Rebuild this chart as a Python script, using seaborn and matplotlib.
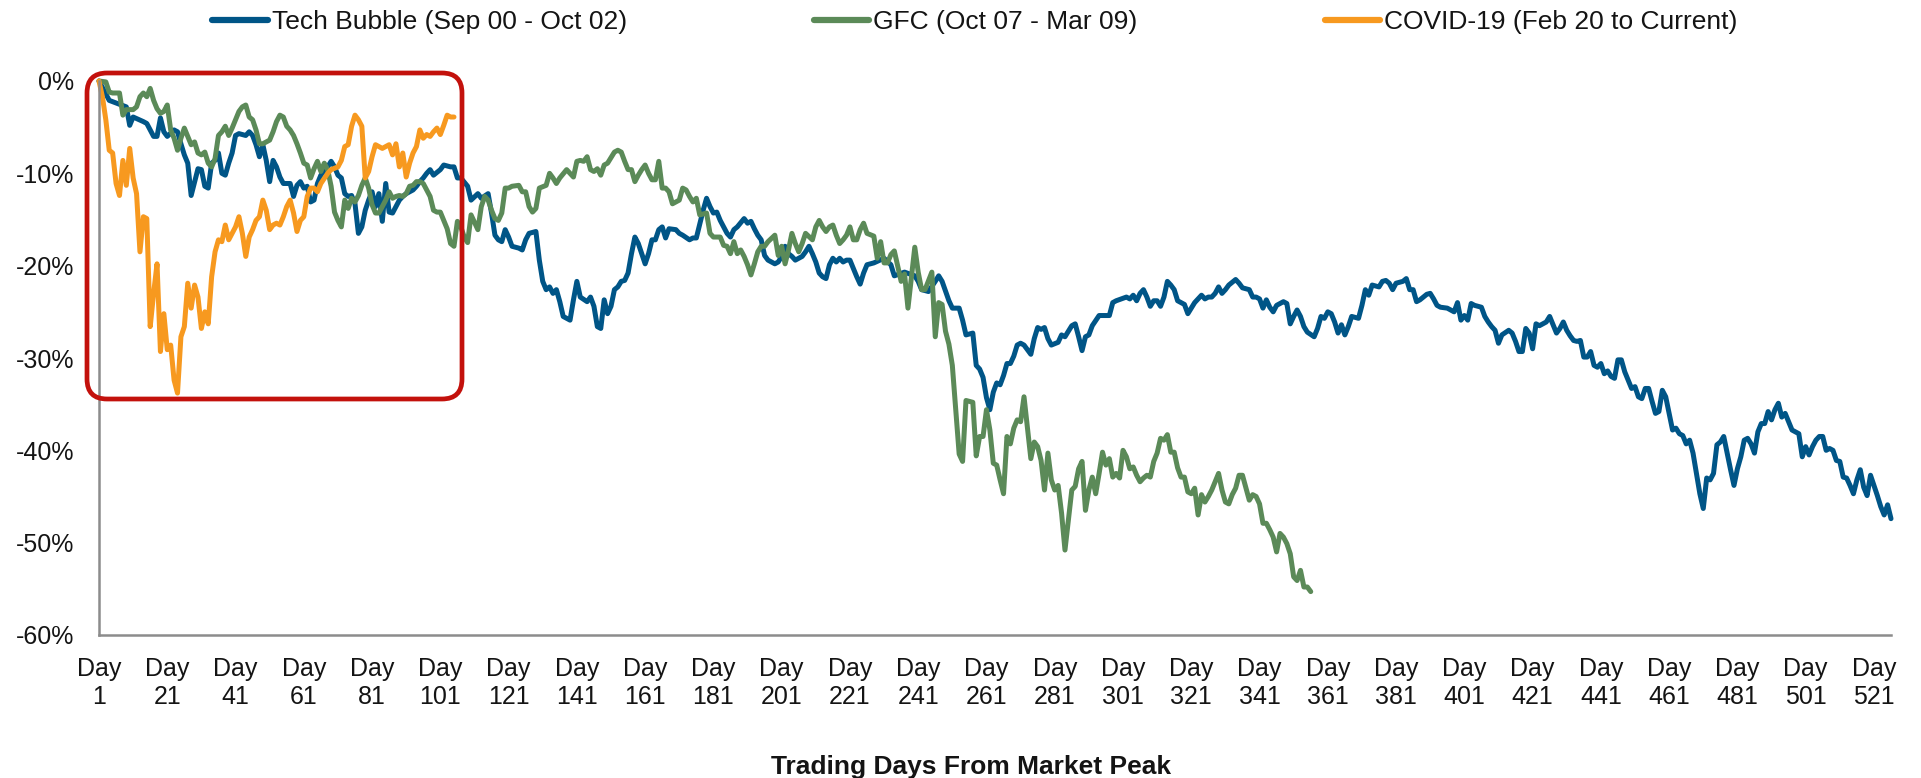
import numpy as np
import pandas as pd
import matplotlib
matplotlib.use("Agg")
import matplotlib.pyplot as plt
from matplotlib.lines import Line2D
from matplotlib.patches import FancyBboxPatch
from matplotlib.ticker import FuncFormatter
import seaborn as sns

# drawdown from market peak, in % (trading day -> value)
tech_days = [
    1, 4, 9, 10, 11, 14, 15, 17, 18, 19,
    20, 21, 23, 24, 25, 26, 27, 28, 30, 31,
    32, 33, 34, 35, 36, 37, 38, 39, 40, 41,
    42, 44, 45, 46, 47, 48, 49, 50, 51, 52,
    53, 54, 55, 57, 58, 59, 60, 61, 62, 63,
    64, 65, 66, 68, 69, 70, 71, 72, 73, 74,
    75, 76, 77, 78, 79, 80, 81, 82, 83, 84,
    85, 86, 87, 88, 89, 90, 91, 93, 94, 95,
    96, 97, 98, 99, 101, 102, 104, 105, 106, 107,
    109, 110, 112, 113, 115, 116, 117, 118, 119, 120,
    121, 122, 124, 125, 126, 127, 129, 130, 131, 132,
    133, 134, 135, 136, 137, 139, 140, 141, 142, 144,
    145, 146, 147, 148, 149, 150, 151, 152, 153, 154,
    155, 156, 157, 158, 159, 160, 161, 162, 163, 164,
    165, 166, 167, 168, 170, 171, 172, 174, 175, 176,
    178, 179, 180, 181, 182, 183, 185, 186, 187, 188,
    190, 191, 192, 193, 194, 195, 196, 197, 199, 200,
    201, 202, 203, 204, 205, 207, 208, 209, 210, 211,
    212, 213, 214, 215, 216, 217, 218, 219, 220, 221,
    223, 224, 225, 226, 228, 231, 233, 234, 237, 240,
    241, 242, 244, 246, 247, 248, 250, 251, 253, 254,
    255, 257, 258, 259, 260, 261, 262, 263, 264, 265,
    266, 267, 268, 269, 270, 271, 272, 274, 275, 276,
    277, 278, 279, 280, 282, 283, 284, 286, 287, 288,
    289, 290, 291, 292, 294, 295, 297, 298, 299, 302,
    303, 304, 305, 306, 307, 308, 309, 310, 311, 312,
    313, 314, 315, 316, 317, 318, 319, 320, 321, 322,
    324, 325, 326, 327, 328, 329, 330, 331, 332, 334,
    335, 336, 338, 339, 340, 341, 342, 343, 344, 345,
    346, 348, 349, 350, 351, 352, 353, 354, 355, 357,
    358, 359, 360, 361, 362, 363, 364, 365, 366, 367,
    368, 370, 371, 372, 373, 374, 376, 377, 378, 379,
    380, 381, 383, 384, 385, 386, 387, 388, 390, 391,
    392, 393, 394, 396, 397, 398, 399, 400, 401, 402,
    403, 404, 406, 407, 408, 409, 410, 411, 412, 414,
    415, 416, 417, 418, 419, 420, 421, 422, 423, 425,
    426, 427, 428, 429, 430, 431, 432, 433, 434, 435,
    436, 437, 438, 439, 440, 441, 442, 443, 444, 445,
    446, 447, 448, 449, 450, 451, 452, 453, 454, 455,
    456, 457, 458, 459, 460, 461, 462, 463, 464, 465,
    466, 467, 468, 469, 470, 471, 472, 473, 474, 475,
    476, 477, 478, 479, 480, 481, 482, 483, 484, 485,
    486, 487, 488, 489, 490, 491, 492, 493, 494, 495,
    496, 497, 498, 499, 500, 501, 502, 503, 504, 505,
    506, 507, 508, 509, 510, 511, 512, 513, 514, 515,
    516, 517, 518, 519, 520, 521, 522, 523, 524, 525, 526,
]
tech_pct = [
    0.0, -2.1, -2.8, -4.8, -3.9, -4.4, -4.6, -6.0, -6.0, -4.0,
    -5.5, -6.0, -5.3, -5.5, -6.8, -8.0, -8.9, -12.4, -9.5, -9.6,
    -11.4, -11.6, -8.9, -8.6, -7.8, -10.0, -10.2, -8.9, -7.8, -5.9,
    -5.7, -5.9, -5.5, -5.9, -6.9, -8.2, -6.9, -8.6, -10.9, -8.6,
    -9.3, -10.4, -11.1, -11.1, -12.5, -11.3, -10.9, -11.6, -11.4, -13.1,
    -12.9, -11.1, -10.2, -9.3, -8.7, -9.3, -10.2, -10.5, -12.2, -12.5,
    -12.4, -13.3, -16.5, -15.8, -14.0, -12.9, -12.0, -13.6, -12.2, -15.2,
    -11.1, -14.2, -14.3, -13.6, -12.9, -12.5, -12.2, -11.8, -11.4, -10.9,
    -10.5, -10.0, -9.6, -10.2, -9.6, -9.1, -9.3, -9.3, -10.5, -10.5,
    -11.4, -12.9, -12.2, -12.7, -12.2, -14.3, -16.7, -17.2, -17.4, -16.1,
    -16.9, -17.9, -18.1, -18.3, -17.2, -16.5, -16.3, -19.4, -21.7, -22.6,
    -22.3, -23.0, -22.6, -23.9, -25.5, -25.9, -23.7, -21.7, -23.4, -23.9,
    -23.4, -24.4, -26.6, -26.8, -23.7, -25.2, -24.4, -22.6, -22.3, -21.7,
    -21.6, -20.8, -18.7, -16.9, -17.6, -18.7, -19.8, -18.7, -17.2, -17.2,
    -16.1, -15.8, -17.0, -16.0, -16.1, -16.5, -16.7, -17.2, -17.0, -17.0,
    -14.0, -12.7, -13.6, -14.3, -14.2, -15.1, -16.5, -16.9, -16.1, -15.8,
    -14.9, -15.4, -15.2, -16.0, -16.7, -17.2, -18.9, -19.4, -19.8, -19.6,
    -19.0, -17.9, -18.7, -19.0, -19.4, -19.0, -18.5, -17.9, -18.7, -19.6,
    -20.8, -21.2, -21.4, -19.9, -19.2, -19.6, -19.2, -19.6, -19.4, -19.4,
    -21.2, -22.0, -20.8, -19.9, -19.7, -19.2, -19.9, -21.1, -20.7, -21.1,
    -21.7, -22.6, -22.8, -21.7, -21.1, -21.7, -23.8, -24.6, -24.6, -25.9,
    -27.5, -27.3, -30.8, -31.2, -32.1, -34.3, -35.6, -33.7, -32.7, -32.9,
    -31.9, -30.6, -30.6, -29.8, -28.6, -28.4, -28.6, -29.6, -27.9, -26.7,
    -26.9, -26.7, -27.9, -28.6, -28.3, -27.5, -27.7, -26.5, -26.3, -27.7,
    -29.2, -27.7, -27.5, -26.5, -25.4, -25.4, -25.4, -24.0, -23.8, -23.4,
    -23.6, -23.2, -23.8, -23.0, -22.6, -23.4, -24.4, -23.8, -23.8, -24.4,
    -23.4, -21.7, -22.1, -22.6, -23.8, -24.0, -24.2, -25.2, -24.6, -24.0,
    -23.2, -23.6, -23.4, -23.4, -23.0, -22.3, -23.0, -22.6, -22.1, -21.5,
    -21.9, -22.4, -22.6, -23.4, -23.4, -23.6, -24.6, -23.7, -24.5, -25.0,
    -24.3, -23.9, -24.1, -26.3, -25.5, -24.8, -25.5, -26.6, -27.2, -27.7,
    -26.8, -25.5, -25.7, -25.0, -25.2, -26.1, -27.3, -26.4, -27.5, -26.6,
    -25.5, -25.7, -24.3, -22.6, -23.2, -22.1, -22.3, -21.7, -21.6, -21.9,
    -22.6, -21.9, -21.7, -21.4, -22.6, -22.6, -23.9, -23.7, -23.1, -23.0,
    -23.6, -24.3, -24.5, -24.6, -24.8, -25.0, -24.0, -25.9, -25.4, -25.9,
    -24.1, -24.3, -24.5, -25.5, -26.1, -26.6, -27.0, -28.4, -27.5, -27.0,
    -27.3, -28.2, -29.3, -29.3, -26.8, -27.3, -29.0, -26.3, -26.5, -26.1,
    -25.5, -26.4, -27.3, -26.8, -26.1, -27.0, -27.6, -28.1, -28.2, -28.1,
    -29.9, -29.9, -29.3, -30.8, -31.0, -30.6, -31.7, -31.4, -32.0, -32.2,
    -30.2, -30.2, -31.5, -32.4, -33.3, -33.1, -34.2, -34.4, -33.3, -33.3,
    -34.7, -36.0, -35.8, -33.5, -34.2, -36.0, -37.8, -37.6, -38.2, -38.4,
    -39.3, -38.9, -40.3, -42.5, -44.7, -46.3, -43.0, -43.2, -42.5, -39.4,
    -39.1, -38.5, -40.3, -42.1, -43.8, -42.0, -40.7, -38.9, -38.7, -39.3,
    -40.3, -38.0, -37.1, -37.1, -35.8, -36.7, -35.6, -34.9, -36.4, -36.0,
    -36.9, -37.8, -38.0, -38.2, -40.7, -39.6, -40.5, -39.6, -38.9, -38.5,
    -38.5, -40.0, -39.8, -40.0, -41.1, -41.2, -42.9, -43.0, -43.8, -44.7,
    -43.2, -42.1, -44.0, -44.9, -42.7, -43.8, -44.9, -46.1, -47.0, -45.9, -47.4,
]

gfc_days = [
    1, 3, 4, 5, 7, 8, 9, 11, 12, 13,
    14, 15, 16, 17, 18, 19, 20, 21, 22, 23,
    24, 25, 26, 27, 28, 29, 30, 31, 32, 33,
    34, 35, 36, 37, 38, 39, 40, 41, 42, 43,
    44, 45, 46, 47, 48, 49, 51, 52, 53, 54,
    55, 56, 57, 58, 59, 60, 61, 62, 63, 64,
    65, 66, 67, 68, 69, 70, 71, 72, 73, 74,
    75, 76, 77, 78, 79, 80, 81, 82, 83, 84,
    85, 86, 87, 88, 89, 90, 91, 92, 93, 94,
    95, 96, 97, 98, 99, 100, 101, 102, 103, 104,
    105, 106, 107, 108, 109, 110, 112, 113, 114, 115,
    116, 117, 118, 119, 120, 121, 122, 124, 125, 126,
    127, 128, 129, 130, 132, 133, 134, 135, 136, 138,
    139, 140, 141, 142, 143, 144, 145, 146, 147, 148,
    149, 150, 152, 153, 154, 155, 156, 157, 158, 159,
    160, 161, 162, 163, 164, 165, 166, 167, 168, 169,
    171, 172, 173, 174, 175, 176, 177, 179, 180, 181,
    183, 184, 185, 186, 187, 188, 189, 190, 191, 192,
    193, 194, 195, 196, 197, 199, 200, 201, 202, 203,
    204, 205, 206, 207, 208, 210, 211, 212, 213, 214,
    215, 216, 217, 218, 219, 220, 221, 222, 223, 224,
    225, 226, 228, 229, 230, 231, 232, 233, 234, 236,
    237, 238, 240, 241, 242, 243, 245, 246, 247, 248,
    249, 250, 251, 252, 253, 254, 255, 257, 258, 259,
    260, 261, 262, 263, 264, 265, 266, 267, 268, 269,
    270, 271, 272, 274, 275, 276, 277, 278, 279, 280,
    281, 282, 283, 284, 285, 286, 287, 288, 289, 290,
    291, 292, 293, 294, 295, 296, 297, 298, 299, 300,
    301, 302, 303, 304, 305, 306, 307, 308, 309, 310,
    311, 312, 313, 314, 315, 316, 317, 318, 319, 320,
    321, 322, 323, 324, 325, 326, 327, 329, 330, 331,
    332, 333, 334, 335, 336, 338, 339, 340, 341, 342,
    343, 344, 345, 346, 347, 348, 349, 350, 351, 352,
    353, 354, 355, 356,
]
gfc_pct = [
    0.0, -0.1, -1.2, -1.3, -1.3, -3.7, -3.1, -3.1, -2.8, -1.7,
    -1.3, -1.7, -0.8, -2.1, -3.0, -3.5, -3.3, -2.6, -5.3, -6.2,
    -7.5, -6.2, -5.1, -6.0, -6.9, -6.6, -7.8, -8.0, -7.7, -8.9,
    -9.3, -8.4, -5.9, -5.5, -4.9, -5.9, -5.1, -4.2, -3.3, -2.8,
    -2.6, -3.9, -4.2, -5.3, -6.8, -6.8, -6.4, -5.5, -4.4, -3.7,
    -3.9, -4.9, -5.3, -5.9, -6.8, -7.8, -8.9, -9.1, -10.5, -9.5,
    -8.7, -9.8, -8.9, -9.6, -11.4, -14.2, -15.1, -15.8, -12.9, -13.8,
    -12.7, -13.1, -12.4, -11.3, -10.5, -11.6, -13.4, -14.3, -14.3, -13.6,
    -12.9, -12.0, -12.7, -12.5, -12.4, -12.5, -12.2, -11.4, -11.3, -10.9,
    -10.9, -11.1, -11.8, -12.5, -14.0, -14.2, -14.2, -15.1, -16.0, -17.6,
    -17.9, -15.2, -15.8, -16.9, -17.5, -14.5, -16.1, -13.6, -12.5, -12.9,
    -14.0, -14.9, -15.1, -14.3, -11.6, -11.6, -11.4, -11.3, -12.0, -12.0,
    -13.6, -14.2, -13.8, -11.6, -11.3, -10.0, -10.5, -11.1, -10.5, -9.6,
    -10.0, -10.4, -8.7, -8.6, -8.7, -8.2, -9.6, -9.8, -9.5, -10.2,
    -9.1, -8.9, -7.7, -7.5, -7.7, -8.7, -9.6, -9.6, -10.9, -10.2,
    -9.6, -9.1, -10.0, -10.7, -10.7, -8.7, -11.6, -11.6, -12.0, -13.3,
    -12.9, -11.6, -11.8, -12.5, -13.1, -12.7, -14.5, -14.3, -16.5, -16.9,
    -16.9, -17.8, -17.9, -18.7, -17.4, -18.7, -18.3, -19.0, -19.9, -21.0,
    -19.8, -18.5, -17.9, -17.9, -17.4, -16.7, -18.9, -17.9, -19.8, -18.3,
    -16.5, -17.6, -18.5, -17.6, -16.5, -17.2, -15.8, -15.1, -15.8, -16.3,
    -15.8, -15.6, -16.7, -17.6, -17.2, -16.7, -15.8, -17.2, -17.2, -16.1,
    -15.4, -16.5, -16.8, -19.2, -17.4, -19.7, -19.7, -18.8, -18.4, -21.7,
    -20.9, -24.6, -18.0, -20.7, -22.6, -22.6, -20.7, -27.7, -24.0, -24.2,
    -27.1, -28.5, -30.8, -35.6, -40.4, -41.2, -34.6, -34.8, -40.6, -38.5,
    -38.5, -35.6, -37.8, -41.4, -41.6, -43.2, -44.7, -38.5, -39.3, -37.6,
    -36.7, -36.9, -34.2, -40.9, -39.1, -39.6, -41.1, -44.3, -40.3, -43.2,
    -44.3, -43.8, -46.8, -50.8, -47.6, -44.3, -43.9, -42.0, -41.2, -46.5,
    -44.3, -42.9, -44.7, -42.5, -40.2, -41.6, -40.9, -42.9, -42.5, -43.0,
    -40.0, -40.7, -42.0, -41.8, -42.7, -43.4, -43.0, -42.7, -42.9, -41.2,
    -40.3, -38.7, -38.9, -38.3, -40.2, -40.2, -41.9, -42.9, -42.9, -44.5,
    -44.7, -44.1, -47.0, -44.8, -45.6, -45.0, -44.3, -42.5, -44.3, -45.6,
    -45.8, -44.8, -44.1, -42.7, -42.7, -45.4, -44.8, -45.0, -45.8, -47.9,
    -47.9, -48.6, -49.4, -51.0, -49.0, -49.4, -50.1, -51.2, -53.7, -54.1,
    -53.0, -54.8, -54.8, -55.3,
]

covid_days = [
    1, 2, 3, 4, 5, 6, 7, 8, 9, 10,
    11, 12, 13, 14, 15, 16, 17, 18, 19, 20,
    21, 22, 23, 24, 25, 26, 27, 28, 29, 30,
    31, 32, 33, 34, 35, 36, 37, 38, 39, 40,
    41, 42, 43, 44, 45, 46, 47, 48, 49, 50,
    51, 52, 53, 54, 55, 56, 57, 58, 59, 60,
    61, 62, 63, 64, 65, 66, 68, 69, 71, 72,
    73, 74, 75, 76, 77, 78, 79, 80, 81, 82,
    83, 84, 86, 87, 88, 89, 90, 91, 92, 93,
    94, 95, 96, 97, 98, 99, 100, 101, 102, 103,
    104, 105,
]
covid_pct = [
    0.0, -1.7, -4.2, -7.5, -7.8, -11.1, -12.4, -8.6, -11.3, -7.3,
    -10.5, -12.2, -18.5, -14.7, -14.9, -26.6, -23.0, -19.8, -29.3, -25.2,
    -29.1, -28.6, -32.4, -33.8, -27.7, -26.6, -21.9, -24.6, -22.1, -23.4,
    -26.8, -25.0, -26.3, -21.2, -18.5, -17.2, -17.4, -15.6, -17.2, -16.5,
    -15.8, -14.7, -16.5, -19.0, -16.9, -16.1, -15.1, -14.7, -12.9, -14.0,
    -16.1, -15.6, -15.4, -15.6, -14.7, -13.6, -12.9, -14.3, -16.3, -15.1,
    -14.7, -12.5, -11.6, -11.6, -12.0, -11.1, -10.0, -9.6, -9.3, -8.6,
    -7.1, -6.9, -4.9, -3.7, -4.2, -4.9, -10.5, -9.8, -8.2, -6.9,
    -7.1, -7.3, -6.9, -8.0, -6.8, -9.3, -7.8, -10.4, -8.9, -7.8,
    -7.1, -5.3, -6.2, -5.8, -6.0, -5.5, -5.1, -5.8, -4.8, -3.7,
    -3.9, -3.9,
]

series_names = [
    "Tech Bubble (Sep 00 - Oct 02)",
    "GFC (Oct 07 - Mar 09)",
    "COVID-19 (Feb 20 to Current)",
]
series_colors = ["#005587", "#5B8A58", "#F7991F"]

tick_days = list(range(1, 522, 10))
label_days = list(range(1, 522, 20))
y_ticks = [-0.6, -0.5, -0.4, -0.3, -0.2, -0.1, 0.0]

frames = []
for name, days, pct in zip(series_names,
                           [tech_days, gfc_days, covid_days],
                           [tech_pct, gfc_pct, covid_pct]):
    frames.append(pd.DataFrame({"day": days,
                                "drawdown": np.array(pct) / 100.0,
                                "series": name}))
df = pd.concat(frames, ignore_index=True)

sns.set_style("white")
plt.rcParams["font.family"] = ["Liberation Sans", "DejaVu Sans"]

W, H = 1921, 778
axis_grey = "#8C8C8C"
text_col = "#141414"

fig = plt.figure(figsize=(W / 100, H / 100), dpi=100)
ax = fig.add_axes([99 / W, 1 - 635 / H, (1891 - 99) / W, (635 - 81) / H])

sns.lineplot(data=df, x="day", y="drawdown", hue="series", hue_order=series_names,
             palette=dict(zip(series_names, series_colors)), linewidth=3.6,
             estimator=None, sort=False, ax=ax)
for line in ax.lines:
    line.set_clip_on(False)
    line.set_solid_joinstyle("round")
ax.get_legend().remove()

ax.set_xlim(1, 526)
ax.set_ylim(-0.6, 0)

ax.set_xticks(tick_days)
ax.set_xticklabels([f"Day\n{d}" if d in label_days else "" for d in tick_days])
ax.set_yticks(y_ticks)
ax.yaxis.set_major_formatter(FuncFormatter(lambda v, _: f"{int(round(v * 100))}%"))

ax.tick_params(axis="x", direction="out", length=6, width=1.5, color=axis_grey,
               pad=10, labelsize=18, labelcolor=text_col)
ax.tick_params(axis="y", direction="out", length=6, width=1.5, color=axis_grey,
               pad=12, labelsize=18, labelcolor=text_col)

for side in ["top", "right"]:
    ax.spines[side].set_visible(False)
for side in ["left", "bottom"]:
    ax.spines[side].set_color(axis_grey)
    ax.spines[side].set_linewidth(1.8)

ax.set_ylabel("")
ax.set_xlabel("Trading Days From Market Peak", fontsize=19, fontweight="bold",
              color=text_col, labelpad=33)
# title sits a little left of the axes centre in the original
ax.xaxis.label.set_x((971 - 99) / (1891 - 99))

# legend across the top
handles = [Line2D([], [], color=c, linewidth=4.5, solid_capstyle="round") for c in series_colors]
fig.legend(handles, series_names, loc="center", bbox_to_anchor=(975 / W, 1 - 22 / H),
           ncol=3, frameon=False, fontsize=19, handlelength=2.1, handletextpad=0.15,
           columnspacing=7.1, borderpad=0, borderaxespad=0, labelcolor=text_col)

# red rounded box highlighting the COVID window
bx0, bx1, by0, by1 = 87, 462, 73, 399
box = FancyBboxPatch((bx0 / W, 1 - by1 / H), (bx1 - bx0) / W, (by1 - by0) / H,
                     boxstyle=f"round,pad=0,rounding_size={20 / W}",
                     mutation_aspect=W / H, transform=fig.transFigure,
                     fill=False, edgecolor="#C3110C", linewidth=3.4, zorder=5)
fig.add_artist(box)

fig.savefig("out.png", dpi=100)
